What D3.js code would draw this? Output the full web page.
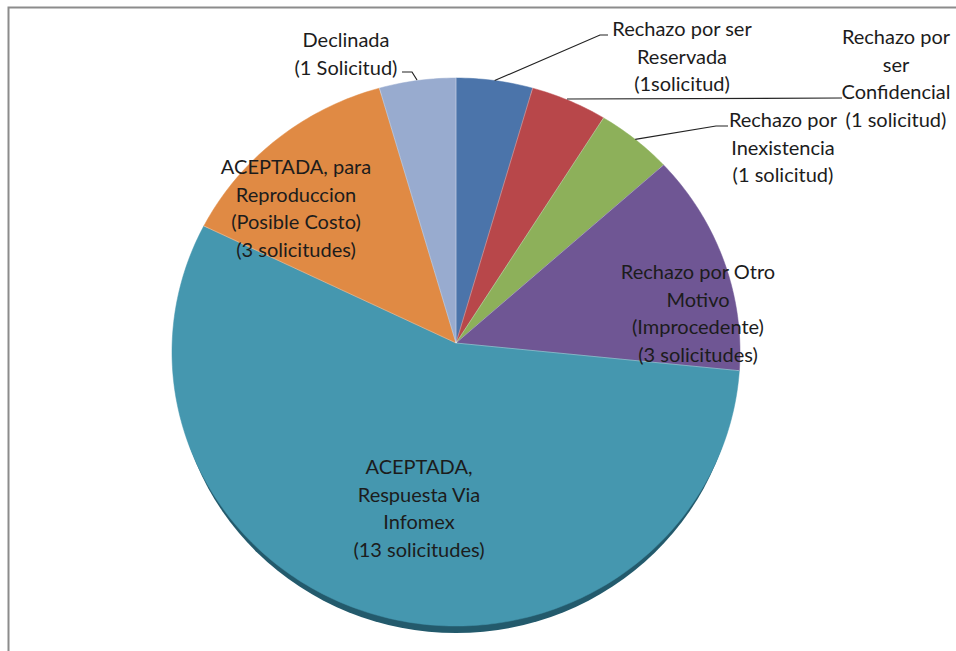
<!DOCTYPE html>
<html>
<head>
<meta charset="utf-8">
<script src="https://cdn.jsdelivr.net/npm/d3@7"></script>
<style>
  body { margin: 0; background: #fff; }
  svg { display: block; }
</style>
</head>
<body>
<div id="chart"></div>
<script>
// slices clockwise from 12 o'clock
const categories = [
  "Rechazo por ser Reservada",
  "Rechazo por ser Confidencial",
  "Rechazo por Inexistencia",
  "Rechazo por Otro Motivo (Improcedente)",
  "ACEPTADA, Respuesta Via Infomex",
  "ACEPTADA, para Reproduccion (Posible Costo)",
  "Declinada"
]
const values = [1, 1, 1, 3, 13, 3, 1]
const labelLines = [
  ["Rechazo por ser", "Reservada", "(1solicitud)"],
  ["Rechazo por", "ser", "Confidencial", "(1 solicitud)"],
  ["Rechazo por", "Inexistencia", "(1 solicitud)"],
  ["Rechazo por Otro", "Motivo", "(Improcedente)", "(3 solicitudes)"],
  ["ACEPTADA,", "Respuesta Via", "Infomex", "(13 solicitudes)"],
  ["ACEPTADA, para", "Reproduccion", "(Posible Costo)", "(3 solicitudes)"],
  ["Declinada", "(1 Solicitud)"]
]
const colors = ["#4b74aa", "#b8474a", "#8db05a", "#6f5694", "#4597af", "#e08a44", "#98abcf"]

const width = 956
const height = 651
const cx = 456, cy = 352 // centre of the rim ellipse
const rx = 284, ry = 274
const vx = 456, vy = 343 // slice apex (tilted 3D look)
const fontSize = 20
const lineH = 27.5

// label anchor (centre of first line) + leader polyline, by slice index
const labelPos = [
  { x: 682, y: 29, leader: [[608, 35], [600, 35]] },
  { x: 896, y: 37, leader: [[842, 98]] },
  { x: 783, y: 120, leader: [[728, 126], [716, 126]] },
  { x: 698, y: 272 },
  { x: 419, y: 467 },
  { x: 296, y: 167 },
  { x: 346, y: 40, leader: [[402, 72], [412, 72]] }
]

const svg = d3.select("#chart").append("svg")
  .attr("width", width)
  .attr("height", height)
  .attr("font-family", "Lato, 'Open Sans', sans-serif")
  .attr("font-size", fontSize)

// chart frame
svg.append("rect")
  .attr("x", 8.5).attr("y", 7.5)
  .attr("width", width + 20).attr("height", height + 20)
  .attr("fill", "none")
  .attr("stroke", "#8c8c8c")
  .attr("stroke-width", 2)

const rim = a => [cx + rx * Math.sin(a), cy - ry * Math.cos(a)]

const arcs = d3.pie().sort(null).value(d => d)(values)

// dark side edge under the pie
svg.append("ellipse")
  .attr("cx", cx).attr("cy", cy + 7)
  .attr("rx", rx - 3).attr("ry", ry)
  .attr("fill", "#235a6c")

const line = d3.line()

svg.append("g")
  .selectAll("path")
  .data(arcs)
  .join("path")
    .attr("fill", (d, i) => colors[i])
    .attr("stroke", (d, i) => colors[i])
    .attr("stroke-width", 0.5)
    .attr("d", d => {
      const n = Math.max(4, Math.ceil((d.endAngle - d.startAngle) * 60))
      const pts = d3.range(n + 1).map(k => rim(d.startAngle + (d.endAngle - d.startAngle) * k / n))
      return line([[vx, vy], ...pts]) + "Z"
    })

// thin light seam lines between slices
svg.append("g")
  .selectAll("line")
  .data(arcs)
  .join("line")
    .attr("x1", vx).attr("y1", vy)
    .attr("x2", d => rim(d.startAngle)[0])
    .attr("y2", d => rim(d.startAngle)[1])
    .attr("stroke", "rgba(255,255,255,0.35)")
    .attr("stroke-width", 1)

// leader lines
svg.append("g")
  .attr("fill", "none")
  .attr("stroke", "#222")
  .attr("stroke-width", 1.2)
  .selectAll("path")
  .data(arcs.filter((d, i) => labelPos[i].leader))
  .join("path")
    .attr("d", d => {
      const i = d.index
      const mid = (d.startAngle + d.endAngle) / 2
      let edge = rim(mid)
      if (i === 1) edge = [567, 99]
      if (i === 6) edge = [417, 80]
      return line([...labelPos[i].leader, edge])
    })

// labels
svg.append("g")
  .attr("text-anchor", "middle")
  .attr("fill", "#1c1c1c")
  .selectAll("text")
  .data(arcs)
  .join("text")
    .attr("x", (d, i) => labelPos[i].x)
    .attr("y", (d, i) => labelPos[i].y)
    .selectAll("tspan")
    .data((d, i) => labelLines[i].map(t => ({ t, i })))
    .join("tspan")
      .attr("x", d => labelPos[d.i].x)
      .attr("dy", (d, k) => k === 0 ? "0.35em" : lineH)
      .text(d => d.t)
</script>
</body>
</html>
